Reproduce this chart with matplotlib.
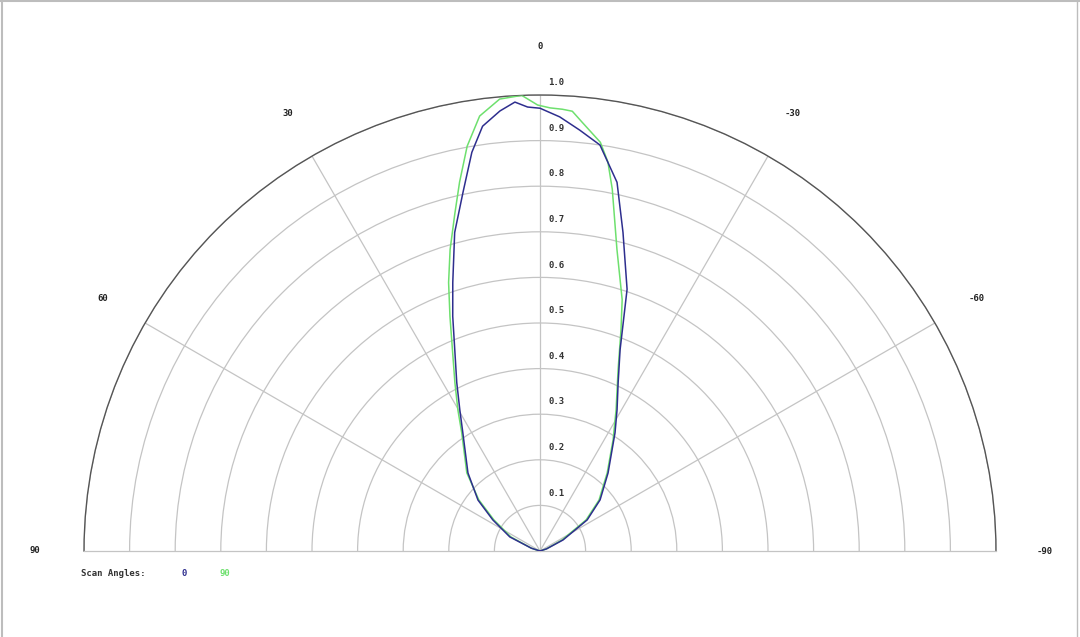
import numpy as np
import matplotlib
matplotlib.use('Agg')
from matplotlib import pyplot as plt
from matplotlib import transforms
from matplotlib.lines import Line2D

# scan angle 0 (blue): angle in degrees, normalised intensity
blue_theta = [90, 72, 65.0, 56.6, 50.6, 42.7, 33.1, 29.6, 26.3, 20.4, 18.0, 15.0, 12.1,
              9.7, 7.7, 5.2, 3.2, 1.6, 0.0, -2.6, -5.4, -8.4, -11.8, -14.6, -18.4,
              -19.7, -21.7, -24.9, -28.6, -32.4, -41.1, -49.6, -56.6, -64.4, -72, -90]
blue_r = [0.0, 0.02, 0.073, 0.124, 0.176, 0.233, 0.310, 0.356, 0.412, 0.549, 0.619, 0.723,
          0.805, 0.887, 0.940, 0.969, 0.986, 0.974, 0.971, 0.953, 0.927, 0.900, 0.826,
          0.722, 0.605, 0.546, 0.475, 0.407, 0.353, 0.307, 0.227, 0.173, 0.124, 0.056,
          0.015, 0.0]

# scan angle 90 (green)
green_theta = [90, 72, 64.2, 56.0, 50.1, 43.1, 33.5, 30.2, 26.8, 21.0, 18.8, 16.6, 14.2,
               12.3, 10.2, 7.9, 5.1, 2.3, 0.3, -1.3, -2.9, -4.2, -5.6, -8.4, -9.9, -11.3,
               -14.3, -18.1, -20.1, -23.3, -28.3, -33.3, -40.7, -49.2, -56.0, -63.4, -72, -90]
green_r = [0.0, 0.02, 0.071, 0.122, 0.175, 0.235, 0.311, 0.358, 0.414, 0.551, 0.622, 0.690,
           0.762, 0.828, 0.902, 0.963, 0.995, 1.0, 0.978, 0.972, 0.970, 0.967, 0.945,
           0.906, 0.866, 0.809, 0.683, 0.580, 0.517, 0.433, 0.352, 0.292, 0.226, 0.171,
           0.122, 0.054, 0.015, 0.0]

ring_values = [0.1, 0.2, 0.3, 0.4, 0.5, 0.6, 0.7, 0.8, 0.9, 1.0]
spoke_angles = [-60, -30, 0, 30, 60]
angle_labels = [90, 60, 30, 0, -30, -60, -90]

BLUE = '#2e2e8e'
GREEN = '#6ee06e'
GRID = '#c4c4c4'
FONT = 'DejaVu Sans Mono'

W, H = 1080, 637
fig = plt.figure(figsize=(W / 100, H / 100), dpi=100)
# the half-disc is drawn at half the size of the axes box, so make the box twice as big
cx, cy, R = 540, 551, 456
bx, by = cx, cy - R / 2          # centre of the half-disc's bounding box (image px)
ax = fig.add_axes([(bx - 2 * R) / W, (H - by - R) / H, 4 * R / W, 2 * R / H],
                  projection='polar')
ax.set_theta_zero_location('N')
ax.set_theta_direction(1)
ax.set_thetamin(-90)
ax.set_thetamax(90)
ax.set_rlim(0, 1.0)

ax.set_rticks(ring_values)
ax.set_yticklabels([])
ax.set_thetagrids(spoke_angles, labels=[''] * len(spoke_angles))
ax.grid(True, color=GRID, linewidth=0.9)
ax.spines['polar'].set_color('#555555')
ax.spines['polar'].set_linewidth(1.0)
for s in ['start', 'end']:
    ax.spines[s].set_color(GRID)
    ax.spines[s].set_linewidth(0.9)
ax.tick_params(length=0)

ax.plot(np.radians(blue_theta), blue_r, color=BLUE, linewidth=1.1, zorder=4)
ax.plot(np.radians(green_theta), green_r, color=GREEN, linewidth=1.1, zorder=3)

# angle labels outside the arc
for a in angle_labels:
    ax.text(np.radians(a), 1.107, str(a), ha='center', va='center', fontsize=6.5,
            fontfamily=FONT, fontweight='bold', color='#222222', clip_on=False)

# radial labels just right of the 0 line
shift = transforms.offset_copy(ax.transData, fig=fig, x=8, y=0, units='dots')
for r in ring_values:
    ax.text(0, r + 0.027, '%.1f' % r, transform=shift, ha='left', va='center',
            fontsize=6.5, fontfamily=FONT, fontweight='bold', color='#333333',
            clip_on=False)

# legend text
fig.text(81 / W, 1 - 573 / H, 'Scan Angles:', ha='left', va='center', fontsize=6.5,
         fontfamily=FONT, fontweight='bold', color='#333333')
fig.text(181 / W, 1 - 573 / H, '0', ha='left', va='center', fontsize=6.5,
         fontfamily=FONT, fontweight='bold', color=BLUE)
fig.text(219 / W, 1 - 573 / H, '90', ha='left', va='center', fontsize=6.5,
         fontfamily=FONT, fontweight='bold', color=GREEN)

# thin frame around the image
frame_col = '#bdbdbd'
fig.add_artist(Line2D([2 / W, 2 / W], [0, 1], color=frame_col, linewidth=1.5))
fig.add_artist(Line2D([1077 / W, 1077 / W], [0, 1], color=frame_col, linewidth=1.0))
fig.add_artist(Line2D([0, 1], [1 - 1 / H, 1 - 1 / H], color=frame_col, linewidth=1.5))

fig.savefig('out.png', dpi=100)
